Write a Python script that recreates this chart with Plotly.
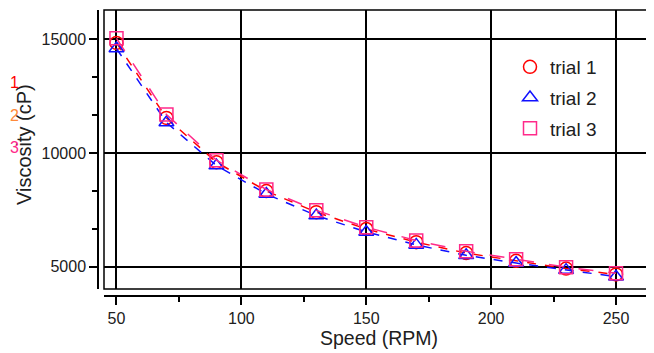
import plotly.graph_objects as go

# ---- data ----
speed_rpm = [50, 70, 90, 110, 130, 150, 170, 190, 210, 230, 250]
trial1 = [14850, 11550, 9600, 8330, 7400, 6660, 6080, 5600, 5260, 4920, 4660]
trial2 = [14600, 11350, 9450, 8200, 7250, 6530, 5960, 5500, 5160, 4850, 4560]
trial3 = [15050, 11700, 9690, 8400, 7480, 6740, 6150, 5680, 5330, 4980, 4710]
series_names = ["trial 1", "trial 2", "trial 3"]
x_ticks = [50, 100, 150, 200, 250]
y_ticks = [5000, 10000, 15000]
y_tick_labels = ["5000", "10000", "15000"]
side_labels = ["1", "2", "3"]
x_title = "Speed (RPM)"
y_title = "Viscosity (cP)"

# page body has an 8px margin: figure is drawn at (8, 8) in the window
OFF = 8
W, H = 654 - OFF, 353 - OFF


def px(X):
    return (X - OFF) / W


def py(Y):
    return 1 - (Y - OFF) / H


RED = "#ff0000"
BLUE = "#1010ff"
PINK = "#ff2a8a"
FONT = "Liberation Sans, Arial, sans-serif"
TXT = "#202020"

fig = go.Figure()
styles = [
    (trial1, RED, "circle-open", "dash"),
    (trial2, BLUE, "triangle-up-open", "dash"),
    (trial3, PINK, "square-open", "longdash"),
]
for i, (vals, col, sym, dash) in enumerate(styles):
    fig.add_trace(go.Scatter(
        x=speed_rpm, y=vals, name=series_names[i], mode="lines+markers",
        showlegend=False,
        line=dict(color=col, width=1.5, dash=dash),
        marker=dict(symbol=sym, size=13, color=col, line=dict(color=col, width=1.5)),
    ))
# marker-only legend entries
for i, (vals, col, sym, dash) in enumerate(styles):
    fig.add_trace(go.Scatter(
        x=[None], y=[None], name=series_names[i], mode="markers",
        legendgroup=f"g{i}", showlegend=True,
        marker=dict(symbol=sym, size=13, color=col, line=dict(color=col, width=1.5)),
    ))

fig.update_layout(
    width=W, height=H,
    margin=dict(l=0, r=0, t=0, b=0, autoexpand=False),
    paper_bgcolor="white", plot_bgcolor="white",
    font=dict(family=FONT, color=TXT, size=16),
    showlegend=True,
    legend=dict(
        x=px(510), y=py(48), xanchor="left", yanchor="top",
        bgcolor="rgba(0,0,0,0)", borderwidth=0,
        font=dict(family=FONT, size=19),
        tracegroupgap=3, itemwidth=30,
    ),
    xaxis=dict(
        domain=[px(104), 1], range=[45.0, 265.2],
        anchor="free", position=py(296), automargin=False,
        showline=True, linecolor="black", linewidth=1.5,
        ticks="outside", ticklen=8, tickwidth=1.5, tickcolor="black",
        tickvals=x_ticks, tickfont=dict(size=16, color=TXT),
        showgrid=True, gridcolor="black", gridwidth=1.5, zeroline=False,
        minor=dict(ticks="outside", ticklen=5, tickwidth=1.5, tickcolor="black",
                   tick0=0, dtick=25, showgrid=False),
        title=dict(text=x_title, font=dict(size=19.5, color=TXT), standoff=0),
    ),
    yaxis=dict(
        domain=[py(289), py(10)], range=[4019, 16298],
        anchor="free", position=px(98), automargin=False,
        showline=True, linecolor="black", linewidth=1.5,
        ticks="outside", ticklen=8, tickwidth=1.5, tickcolor="black",
        tickvals=y_ticks, ticktext=y_tick_labels, tickfont=dict(size=16, color=TXT),
        showgrid=True, gridcolor="black", gridwidth=1.5, zeroline=False,
        minor=dict(ticks="outside", ticklen=5, tickwidth=1.5, tickcolor="black",
                   tick0=0, dtick=5000 / 3, showgrid=False),
    ),
)

# y-axis title as rotated text
fig.add_annotation(text=y_title, xref="paper", yref="paper", x=px(24), y=py(145),
                   xanchor="center", yanchor="middle", textangle=-90, showarrow=False,
                   font=dict(family=FONT, size=20, color=TXT))

# frame around the plot area
fig.add_shape(type="rect", xref="x domain", yref="y domain",
              x0=0, x1=1.05, y0=0, y1=1, line=dict(color="black", width=1.5),
              layer="above")

# labels at the far left edge
for lab, col, ypx in zip(side_labels, [RED, "#ff8a3a", "#ff2a8a"], [83, 115, 147]):
    fig.add_annotation(text=lab, xref="paper", yref="paper", x=0, y=py(ypx),
                       xanchor="left", yanchor="middle", showarrow=False,
                       font=dict(family=FONT, size=16, color=col))

fig.write_html("out.html")
